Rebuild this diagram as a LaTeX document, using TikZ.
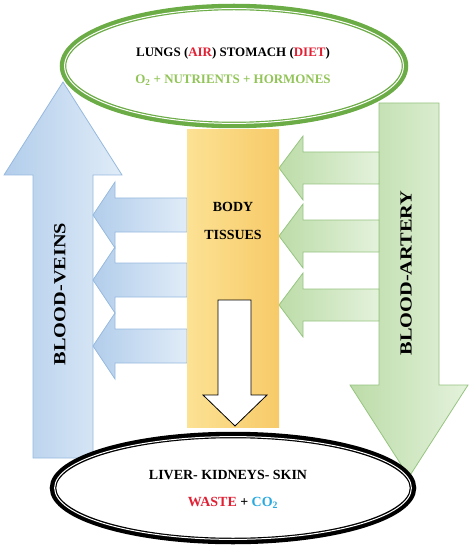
\documentclass[tikz,border=0pt]{standalone}
\usepackage{fontspec}
\setmainfont{Liberation Serif}
\definecolor{topgreen}{RGB}{108,172,70}
\definecolor{txtgreen}{RGB}{146,196,88}
\definecolor{txtred}{RGB}{226,32,52}
\definecolor{txtblue}{RGB}{40,170,225}
\definecolor{blueA}{RGB}{178,205,235}
\definecolor{blueB}{RGB}{224,236,248}
\definecolor{blueedge}{RGB}{150,185,222}
\definecolor{greenA}{RGB}{188,220,168}
\definecolor{greenB}{RGB}{228,242,220}
\definecolor{greenedge}{RGB}{150,196,128}
\definecolor{boxA}{RGB}{252,226,148}
\definecolor{boxB}{RGB}{254,244,206}
\definecolor{boxC}{RGB}{247,202,104}
\begin{document}
\begin{tikzpicture}[x=1bp,y=-1bp,
  arr/.style={line width=0.8bp, line join=miter},
  bluearr/.style={arr, draw=blueedge, left color=blueA, right color=blueB},
  greenarr/.style={arr, draw=greenedge, left color=greenA, right color=greenB},
  lbl/.style={font=\bfseries\fontsize{13}{15}\selectfont, inner sep=0pt},
  midlbl/.style={font=\bfseries\fontsize{14}{16}\selectfont, inner sep=0pt},
  biglbl/.style={font=\bfseries, inner sep=0pt, rotate=90}]
\useasboundingbox (0,0) rectangle (474,548);

% blood-veins up arrow
\draw[bluearr] (33,458) -- (33,175) -- (4,175) -- (63,82) -- (122,175) -- (93,175) -- (93,458) -- cycle;
% blood-artery down arrow
\draw[greenarr] (379,103) -- (439,103) -- (439,385) -- (468,385) -- (409,477) -- (350,385) -- (379,385) -- cycle;

% blue arrows from tissues to veins
\foreach \c in {215,280,346}{
  \draw[bluearr] (187,\c-17) -- (115,\c-17) -- (115,\c-33) -- (93,\c) -- (115,\c+33) -- (115,\c+17) -- (187,\c+17) -- cycle;
}
% green arrows from artery to tissues
\foreach \c in {168,236,305}{
  \draw[greenarr] (379,\c-16) -- (303,\c-16) -- (303,\c-32) -- (279,\c) -- (303,\c+32) -- (303,\c+16) -- (379,\c+16) -- cycle;
}

% body tissues box
\shade[left color=boxA, middle color=boxB, right color=boxC] (187,130) rectangle (279,427);
% white down arrow
\draw[arr, draw=black, fill=white] (218,300) -- (251,300) -- (251,395) -- (267,395) -- (235,426) -- (203,395) -- (218,395) -- cycle;

% top ellipse
\draw[topgreen, line width=6.5bp, fill=white] (234,66) ellipse [x radius=171, y radius=59];
\draw[white, line width=1bp] (234,66) ellipse [x radius=169.4, y radius=57.4];
% bottom ellipse
\draw[black, line width=6.5bp, fill=white] (233,488) ellipse [x radius=180, y radius=53];
\draw[white, line width=1bp] (233,488) ellipse [x radius=178.4, y radius=51.4];

% texts
\node[lbl] (lungs) at (233,53) {LUNGS ({\color{txtred}AIR}) STOMACH ({\color{txtred}DIET})};
\node[lbl, text=txtgreen] (nutr) at (233,80) {O\textsubscript{2} + NUTRIENTS + HORMONES};
\node[midlbl] (body) at (233,207) {BODY};
\node[midlbl] (tiss) at (233,235) {TISSUES};
\node[midlbl] (liver) at (228,475) {LIVER- KIDNEYS- SKIN};
\node[midlbl] (waste) at (233,503) {{\color{txtred}WASTE} + {\color{txtblue}CO\textsubscript{2}}};
\node[biglbl] (veins) at (60,294) {\scalebox{1.2}[1]{\fontsize{17}{17}\selectfont BLOOD-VEINS}};
\node[biglbl] (artery) at (406,273) {\scalebox{1.2}[1]{\fontsize{17}{17}\selectfont BLOOD-ARTERY}};
\end{tikzpicture}
\end{document}
